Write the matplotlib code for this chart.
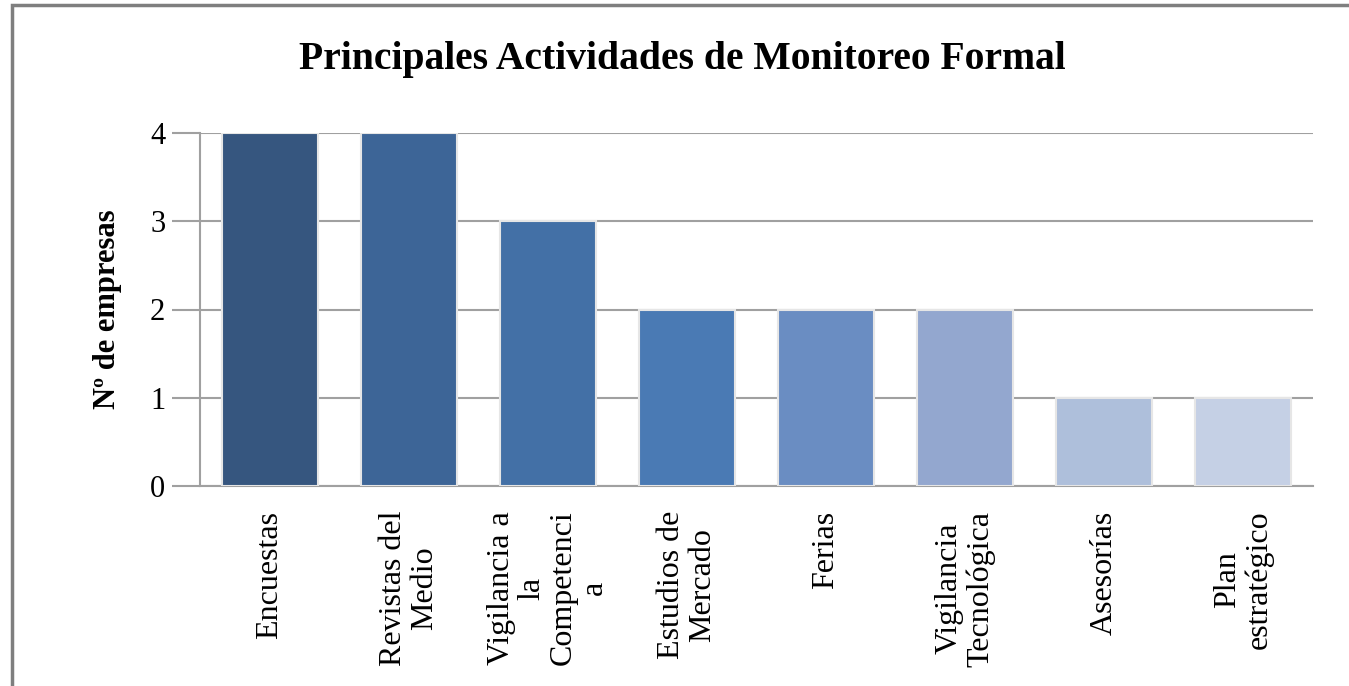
import matplotlib.pyplot as plt
from matplotlib.patches import Rectangle

plt.rcParams['font.family'] = ['Liberation Serif', 'DejaVu Serif']

categorias = ['Encuestas', 'Revistas del\nMedio', 'Vigilancia a\nla\nCompetenci\na',
              'Estudios de\nMercado', 'Ferias', 'Vigilancia\nTecnológica',
              'Asesorías', 'Plan\nestratégico']
valores = [4, 4, 3, 2, 2, 2, 1, 1]
colores = ['#36567f', '#3d6597', '#4370a6', '#4a7ab4', '#6a8dc2',
           '#93a7cf', '#aebfdb', '#c5d0e5']


def main():
    fig = plt.figure(figsize=(13.49, 6.86), dpi=100)
    ax = fig.add_axes([200 / 1349, 1 - 486 / 686, 1113 / 1349, 353 / 686])

    x = list(range(len(categorias)))
    ax.bar(x, valores, width=0.69, color=colores, edgecolor='#e6e6e6',
           linewidth=1.5, zorder=3)

    ax.set_xlim(-0.5, len(categorias) - 0.5)
    ax.set_ylim(0, 4)
    ax.set_yticks(range(0, 5))
    ax.yaxis.grid(True, color='#a0a0a0', linewidth=1.5, zorder=0)
    ax.tick_params(axis='y', length=20, width=1.5, color='#a0a0a0',
                   labelsize=22, pad=5)
    ax.tick_params(axis='x', length=0)
    ax.set_xticks(x)
    ax.set_xticklabels([])
    for xi, lab in zip(x, categorias):
        ax.text(xi, -0.07, lab, rotation=90, ha='center', va='top',
                multialignment='center', fontsize=23,
                transform=ax.get_xaxis_transform(), linespacing=1.1)

    for s in ['top', 'right']:
        ax.spines[s].set_visible(False)
    ax.spines['left'].set_color('#a0a0a0')
    ax.spines['left'].set_linewidth(1.5)
    ax.spines['bottom'].set_color('#a0a0a0')
    ax.spines['bottom'].set_linewidth(1.5)

    ax.set_ylabel('Nº de empresas', fontsize=22, fontweight='bold', labelpad=20)
    fig.text(682 / 1349, 1 - 60 / 686, 'Principales Actividades de Monitoreo Formal',
             ha='center', va='center', fontsize=28.5, fontweight='bold')

    fig.patches.append(Rectangle((12 / 1349, -0.1), 1.2, 1 - 5 / 686 + 0.1,
                                 transform=fig.transFigure, fill=False,
                                 edgecolor='#7f7f7f', linewidth=2.5))

    fig.savefig('out.png', dpi=100)


if __name__ == '__main__':
    main()
